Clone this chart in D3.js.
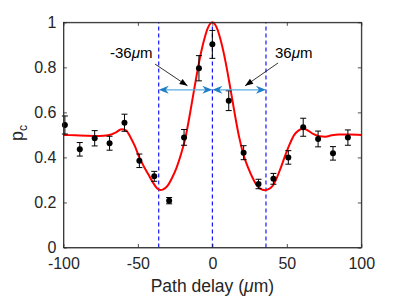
<!DOCTYPE html>
<html><head><meta charset="utf-8">
<script src="https://cdn.jsdelivr.net/npm/d3@7"></script>
<style>
html,body{margin:0;padding:0;background:#fff;}
svg{display:block;font-family:"Liberation Sans",Arial,sans-serif;}
</style></head>
<body><svg id="c" width="399" height="299"></svg>
<script>
// measured points
const xPts = [-99,-89,-79,-69,-59,-49,-39,-29,-19,-9,0,11,21,31,41,51,61,71,81,91];
const yPts = [0.544,0.436,0.485,0.463,0.554,0.385,0.316,0.208,0.489,0.796,0.902,0.652,0.421,0.282,0.305,0.400,0.534,0.482,0.418,0.488];
const errPts = [0.040,0.030,0.034,0.031,0.038,0.030,0.022,0.014,0.035,0.056,0.062,0.044,0.031,0.021,0.024,0.030,0.040,0.035,0.030,0.034];
// fit curve
const fitX = [-100,-92,-84,-76,-70,-65,-61,-58,-55,-52,-49,-46,-43,-40,-37,-35,-33,-30,-27,-24,-21,-18,-15,-12,-9,-6,-3,0,3,6,9,12,15,18,21,24,27,30,33,35.5,38,40,43,46,49,52,55,58,61,64,68,72,76,80,85,92,100];
const fitY = [0.500,0.498,0.496,0.495,0.498,0.510,0.525,0.520,0.490,0.450,0.400,0.360,0.325,0.290,0.262,0.255,0.258,0.275,0.310,0.355,0.415,0.490,0.595,0.710,0.820,0.910,0.975,1.000,0.975,0.910,0.820,0.710,0.595,0.490,0.410,0.355,0.310,0.275,0.258,0.254,0.260,0.270,0.305,0.355,0.410,0.460,0.500,0.520,0.528,0.520,0.503,0.494,0.492,0.498,0.502,0.502,0.500];
const markers = [-36, 0, 36];
const arrowY = 0.7;
const xTicks = [-100,-50,0,50,100];
const yTicks = [0,0.2,0.4,0.6,0.8,1];
const annLeft = "-36";
const annRight = "36";

const svg = d3.select("#c");
const x = d3.scaleLinear().domain([-100,100]).range([63.4,361.3]);
const y = d3.scaleLinear().domain([0,1]).range([247.5,22.3]);
const axCol = "#262626";

// dashed marker lines
svg.selectAll(".vl").data(markers).enter().append("line")
  .attr("x1",d=>x(d)).attr("x2",d=>x(d)).attr("y1",y(0)).attr("y2",y(1))
  .attr("stroke","#0000ff").attr("stroke-width",1.1).attr("stroke-dasharray","4,3");

// fit curve
const line = d3.line().x((d,i)=>x(fitX[i])).y((d,i)=>y(fitY[i])).curve(d3.curveMonotoneX);
svg.append("path").datum(fitX).attr("d",line).attr("fill","none").attr("stroke","#ff0000").attr("stroke-width",2);

// error bars
const g = svg.append("g");
xPts.forEach((xv,i)=>{
  const px=x(xv), lo=y(yPts[i]-errPts[i]), hi=y(yPts[i]+errPts[i]);
  g.append("line").attr("x1",px).attr("x2",px).attr("y1",lo).attr("y2",hi).attr("stroke","#000").attr("stroke-width",1);
  [lo,hi].forEach(v=>g.append("line").attr("x1",px-3).attr("x2",px+3).attr("y1",v).attr("y2",v).attr("stroke","#000").attr("stroke-width",1));
});
g.selectAll("circle").data(xPts).enter().append("circle")
  .attr("cx",d=>x(d)).attr("cy",(d,i)=>y(yPts[i])).attr("r",3).attr("fill","#000");

// blue double arrows
function blueHead(tipX, tipY, dir){ // dir = +1 pointing right, -1 left
  const L=10, H=4, B=3;
  const p = [[tipX,tipY],[tipX-dir*L,tipY-H],[tipX-dir*(L-B),tipY],[tipX-dir*L,tipY+H]];
  svg.append("path").attr("d","M"+p.map(q=>q.join(",")).join("L")+"Z").attr("fill","#1f7ec4");
}
for(let k=0;k<markers.length-1;k++){
  const a=markers[k], b=markers[k+1];
  svg.append("line").attr("x1",x(a)+4).attr("x2",x(b)-4).attr("y1",y(arrowY)).attr("y2",y(arrowY))
    .attr("stroke","#5aaee0").attr("stroke-width",1.2);
  blueHead(x(a), y(arrowY), -1);
  blueHead(x(b), y(arrowY), 1);
}

// black annotation arrows
function blackArrow(x1,y1,x2,y2){
  svg.append("line").attr("x1",x1).attr("y1",y1).attr("x2",x2).attr("y2",y2).attr("stroke","#000").attr("stroke-width",0.8);
  const ang=Math.atan2(y2-y1,x2-x1), L=8, W=3;
  const bx=x2-L*Math.cos(ang), by=y2-L*Math.sin(ang);
  const nx=-Math.sin(ang), ny=Math.cos(ang);
  svg.append("path").attr("d",`M${x2},${y2}L${bx+nx*W},${by+ny*W}L${bx-nx*W},${by-ny*W}Z`).attr("fill","#000");
}
blackArrow(155,64, x(-18)+2, y(arrowY)-4);
blackArrow(278,63, x(22)+0, y(arrowY)-4);

const t1 = svg.append("text").attr("x",110).attr("y",58).attr("font-size",15).attr("fill","#000");
t1.append("tspan").text(annLeft);
t1.append("tspan").attr("font-style","italic").text("\u03bc");
t1.append("tspan").text("m");
const t2 = svg.append("text").attr("x",275).attr("y",58).attr("font-size",15).attr("fill","#000");
t2.append("tspan").text(annRight);
t2.append("tspan").attr("font-style","italic").text("\u03bc");
t2.append("tspan").text("m");

// axes box
svg.append("rect").attr("x",x(-100)).attr("y",y(1)).attr("width",x(100)-x(-100)).attr("height",y(0)-y(1))
  .attr("fill","none").attr("stroke",axCol).attr("stroke-width",0.8);
const xb = d3.axisBottom(x).tickValues(xTicks).tickSizeInner(-3.5).tickSizeOuter(0).tickPadding(10).tickFormat(d3.format("d"));
const ya = d3.axisLeft(y).tickValues(yTicks).tickSizeInner(-3.5).tickSizeOuter(0).tickPadding(7).tickFormat(d=>d===0?"0":(d===1?"1":d3.format(".1f")(d)));
const gx = svg.append("g").attr("transform",`translate(0,${y(0)})`).call(xb);
const gy = svg.append("g").attr("transform",`translate(${x(-100)},0)`).call(ya);
svg.append("g").attr("transform",`translate(0,${y(1)})`).call(d3.axisTop(x).tickValues(xTicks).tickSizeInner(-3.5).tickSizeOuter(0).tickFormat(""));
svg.append("g").attr("transform",`translate(${x(100)},0)`).call(d3.axisRight(y).tickValues(yTicks).tickSizeInner(-3.5).tickSizeOuter(0).tickFormat(""));
svg.selectAll(".domain").attr("stroke",axCol).attr("stroke-width",0.8);
svg.selectAll(".tick line").attr("stroke",axCol).attr("stroke-width",0.8);
svg.selectAll(".tick text").attr("font-size",16).attr("fill",axCol).attr("font-family","Liberation Sans, Arial, sans-serif");
gx.selectAll(".tick text").text(d=>d<0?"-"+Math.abs(d):d);

// axis labels
const xl = svg.append("text").attr("x",x(0)).attr("y",292).attr("text-anchor","middle").attr("font-size",17.5).attr("fill",axCol);
xl.append("tspan").text("Path delay (");
xl.append("tspan").attr("font-style","italic").text("\u03bc");
xl.append("tspan").text("m)");
const yl = svg.append("text").attr("transform","translate(23,133) rotate(-90)").attr("text-anchor","middle").attr("font-size",18).attr("fill",axCol);
yl.append("tspan").text("p");
yl.append("tspan").attr("font-size",12).attr("dy",4).text("c");
</script></body></html>
